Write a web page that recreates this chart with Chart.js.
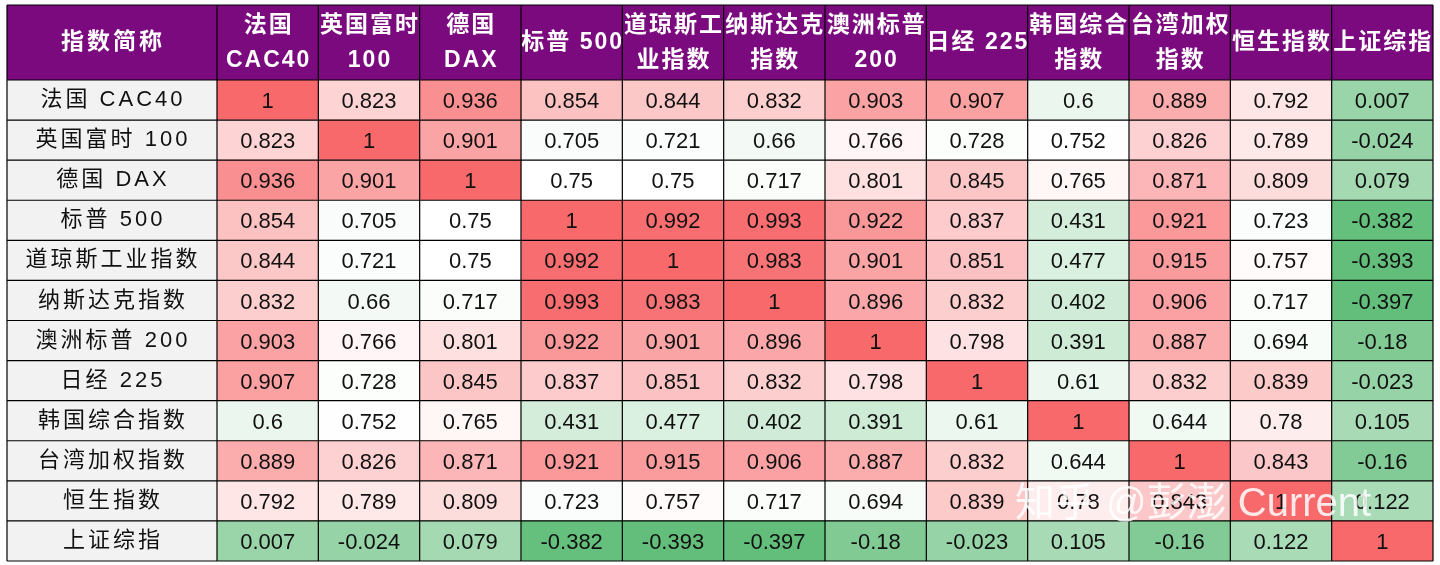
<!DOCTYPE html>
<html lang="zh">
<head>
<meta charset="UTF-8">
<title>指数相关性</title>
<script src="https://cdn.jsdelivr.net/npm/chart.js@4.4.0/dist/chart.umd.min.js"></script>
<style>html,body{margin:0;background:#fff}</style>
</head>
<body>
<canvas id="c" width="1440" height="565"></canvas>
<script>
// 行标签、列标题、相关系数
const rowLabels = ['法国 CAC40','英国富时 100','德国 DAX','标普 500','道琼斯工业指数','纳斯达克指数','澳洲标普 200','日经 225','韩国综合指数','台湾加权指数','恒生指数','上证综指'];
const colHeaders = [['法国','CAC40'],['英国富时','100'],['德国','DAX'],['标普 500'],['道琼斯工','业指数'],['纳斯达克','指数'],['澳洲标普','200'],['日经 225'],['韩国综合','指数'],['台湾加权','指数'],['恒生指数'],['上证综指']];
const row0  = [1,0.823,0.936,0.854,0.844,0.832,0.903,0.907,0.6,0.889,0.792,0.007];
const row1  = [0.823,1,0.901,0.705,0.721,0.66,0.766,0.728,0.752,0.826,0.789,-0.024];
const row2  = [0.936,0.901,1,0.75,0.75,0.717,0.801,0.845,0.765,0.871,0.809,0.079];
const row3  = [0.854,0.705,0.75,1,0.992,0.993,0.922,0.837,0.431,0.921,0.723,-0.382];
const row4  = [0.844,0.721,0.75,0.992,1,0.983,0.901,0.851,0.477,0.915,0.757,-0.393];
const row5  = [0.832,0.66,0.717,0.993,0.983,1,0.896,0.832,0.402,0.906,0.717,-0.397];
const row6  = [0.903,0.766,0.801,0.922,0.901,0.896,1,0.798,0.391,0.887,0.694,-0.18];
const row7  = [0.907,0.728,0.845,0.837,0.851,0.832,0.798,1,0.61,0.832,0.839,-0.023];
const row8  = [0.6,0.752,0.765,0.431,0.477,0.402,0.391,0.61,1,0.644,0.78,0.105];
const row9  = [0.889,0.826,0.871,0.921,0.915,0.906,0.887,0.832,0.644,1,0.843,-0.16];
const row10 = [0.792,0.789,0.809,0.723,0.757,0.717,0.694,0.839,0.78,0.843,1,0.122];
const row11 = [0.007,-0.024,0.079,-0.382,-0.393,-0.397,-0.18,-0.023,0.105,-0.16,0.122,1];
const matrix = [row0,row1,row2,row3,row4,row5,row6,row7,row8,row9,row10,row11];

const MIN = -0.397, MID = 0.75, MAX = 1;
function color(v) {
  const lerp = (a, b, t) => Math.round(a + (b - a) * t);
  if (v >= MID) {
    const t = (v - MID) / (MAX - MID);
    return `rgb(${lerp(255,248,t)},${lerp(255,105,t)},${lerp(255,107,t)})`;
  }
  const t = (MID - v) / (MID - MIN);
  return `rgb(${lerp(255,99,t)},${lerp(255,190,t)},${lerp(255,123,t)})`;
}

const CJK = '"Liberation Sans","Noto Sans CJK SC",sans-serif';

const tablePlugin = {
  id: 'table',
  beforeDatasetsDraw(chart) {
    const {ctx, chartArea: a} = chart;
    ctx.save();
    ctx.fillStyle = '#7b0a7f';
    ctx.fillRect(7, 5, a.right - 7, a.top - 5);
    ctx.fillStyle = '#f2f2f2';
    ctx.fillRect(7, a.top, a.left - 7, a.bottom - a.top);
    ctx.restore();
  },
  afterDatasetsDraw(chart) {
    const {ctx, chartArea: a, scales: {x, y}} = chart;
    ctx.save();
    ctx.textAlign = 'center';
    ctx.textBaseline = 'middle';
    // cell values
    ctx.fillStyle = '#111';
    ctx.font = '22px ' + CJK;
    chart.data.datasets.forEach((ds, j) => {
      chart.getDatasetMeta(j).data.forEach((el, i) => {
        const p = el.getProps(['x', 'base', 'y']);
        ctx.fillText(String(matrix[i][j]), (p.x + p.base) / 2, p.y + 2);
      });
    });
    // row labels
    ctx.letterSpacing = '3px';
    rowLabels.forEach((l, i) => ctx.fillText(l, (7 + a.left) / 2 + 1, y.getPixelForValue(i)));
    // header labels
    ctx.fillStyle = '#fff';
    ctx.font = 'bold 23px ' + CJK;
    ctx.fillText('指数简称', (7 + a.left) / 2 + 1, (5 + a.top) / 2);
    ctx.letterSpacing = '2px';
    colHeaders.forEach((h, j) => {
      const cx = x.getPixelForValue(j + 0.5) + 1;
      const cy = (5 + a.top) / 2;
      if (h.length === 1) ctx.fillText(h[0], cx, cy);
      else { ctx.fillText(h[0], cx, cy - 17); ctx.fillText(h[1], cx, cy + 18); }
    });
    ctx.letterSpacing = '0px';
    // grid lines
    ctx.strokeStyle = '#000';
    ctx.lineWidth = 1.2;
    ctx.beginPath();
    const xs = [7, a.left];
    for (let j = 1; j <= 12; j++) xs.push(x.getPixelForValue(j));
    xs.forEach(px => { ctx.moveTo(px, 5); ctx.lineTo(px, a.bottom); });
    const half = (y.getPixelForValue(1) - y.getPixelForValue(0)) / 2;
    const ys = [5, a.top];
    for (let i = 0; i < 12; i++) ys.push(y.getPixelForValue(i) + half);
    ys.forEach(py => { ctx.moveTo(7, py); ctx.lineTo(a.right, py); });
    ctx.stroke();
    // watermark
    ctx.fillStyle = 'rgba(255,255,255,0.85)';
    ctx.font = '40px ' + CJK;
    ctx.textAlign = 'left';
    ctx.fillText('知乎 @彭澎 Current', 1015, 505);
    ctx.restore();
  }
};

new Chart(document.getElementById('c'), {
  type: 'bar',
  data: {
    labels: rowLabels,
    datasets: colHeaders.map((h, j) => ({
      label: h.join(''),
      data: rowLabels.map(() => 1),
      backgroundColor: matrix.map(r => color(r[j])),
      borderWidth: 0,
      barPercentage: 1,
      categoryPercentage: 1
    }))
  },
  options: {
    indexAxis: 'y',
    responsive: false,
    animation: false,
    layout: {padding: {left: 7, top: 5, right: 7, bottom: 4}},
    plugins: {legend: {display: false}, tooltip: {enabled: false}},
    scales: {
      x: {
        stacked: true, min: 0, max: 12, position: 'top',
        grid: {display: false}, border: {display: false},
        ticks: {display: false},
        afterFit(s) { s.height = 75; }
      },
      y: {
        stacked: true,
        grid: {display: false}, border: {display: false},
        ticks: {display: false},
        afterFit(s) { s.width = 210; }
      }
    }
  },
  plugins: [tablePlugin]
});
</script>
</body>
</html>
